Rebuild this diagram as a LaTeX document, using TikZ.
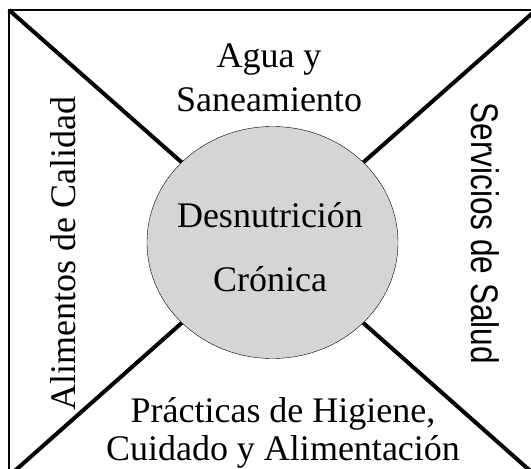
\documentclass[tikz,border=0pt]{standalone}
\usepackage{fontspec}
\setmainfont{Liberation Serif}
\newfontfamily\arialfont{Liberation Sans}
\usetikzlibrary{shapes.geometric}
\definecolor{coregray}{RGB}{213,213,213}

\begin{document}
\begin{tikzpicture}[
    x = 1pt, y = -1pt, % pixel units, y pointing down
    every node/.style = {inner sep = 0pt},
    spoke/.style = {line width = 4pt}, % the four diagonals
    frame/.style = {line width = 1.3pt}
    ]

    \tikzset{label text/.style={
    font = \fontsize{36}{43.7}\selectfont,
    align = center
    }}
    \useasboundingbox (0,0) rectangle (531,469);
    \clip (0,0) rectangle (531,469);

    % outer box (runs past the picture on the right and bottom)
    \coordinate (tl) at (9,10);
    \coordinate (tr) at (536,10);
    \coordinate (bl) at (9,476);
    \coordinate (br) at (536,476);
    \draw[frame] (tl) rectangle (br);

    \node[ellipse, draw, thin, fill = coregray,
    minimum width = 251pt, minimum height = 232pt] (core) at (272.5,242.5) {};
    \node[label text, font = \fontsize{36}{63.4}\selectfont] (coretext) at (270,247) {Desnutrición\\Crónica};

    \draw[spoke] (tl) -- (core);
    \draw[spoke] (tr) -- (core);
    \draw[spoke] (bl) -- (core);
    \draw[spoke] (br) -- (core);

    \node[label text] (agua) at (269,77.6) {Agua y\\Saneamiento};
    \node[label text, font = \fontsize{36}{37.4}\selectfont] (practicas) at (283,432.7) {Prácticas de Higiene,\\Cuidado y Alimentación};
    \node[label text, anchor = base, rotate = 90] (alimentos) at (75,254) {Alimentos de Calidad};
    \node[anchor = base, rotate = -90, font = \arialfont\fontsize{38.5}{40}\selectfont] (servicios) at (471.7,233.3) {\scalebox{0.82}[1]{Servicios de Salud}};
\end{tikzpicture}
\end{document}
